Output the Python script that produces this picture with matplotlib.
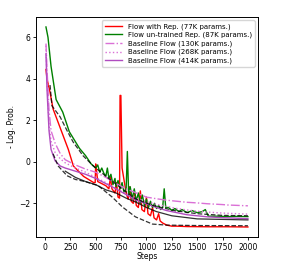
import matplotlib
matplotlib.use('Agg')
import matplotlib.pyplot as plt

# Flow with Rep. (77K params.)
rep_steps = [10, 20, 50, 80, 130, 180, 230, 280, 330, 380, 430, 480, 495, 500, 510, 520,
             560, 600, 630, 645, 660, 690, 705, 720, 735, 740, 748, 760, 780, 800, 820,
             835, 850, 870, 885, 900, 920, 940, 955, 980, 1000, 1015, 1040, 1060, 1075,
             1100, 1120, 1135, 1160, 1200, 1250, 1300, 1400, 1600, 1800, 2000]
rep_vals = [4.45, 4.0, 3.35, 2.55, 1.9, 1.25, 0.6, -0.2, -0.45, -0.7, -0.85, -1.0, -1.0, -0.1,
            -0.5, -0.95, -1.05, -1.15, -1.3, -0.75, -1.3, -1.5, -1.0, -1.7, -1.75, 3.2, 3.2,
            -0.3, -0.9, -1.5, -1.8, -1.2, -1.9, -2.0, -1.5, -2.1, -2.2, -1.4, -2.3, -2.4,
            -1.7, -2.5, -2.6, -2.2, -2.7, -2.8, -2.5, -2.85, -2.95, -3.05, -3.1, -3.1,
            -3.12, -3.13, -3.13, -3.14]

# Flow un-trained Rep. (87K params.)
unt_steps = [10, 30, 60, 110, 175, 240, 340, 400, 455, 500, 520, 540, 560, 580, 600, 615,
             630, 650, 670, 690, 700, 720, 740, 760, 780, 800, 812, 825, 840, 860, 880, 900,
             920, 940, 960, 980, 1000, 1020, 1040, 1060, 1080, 1100, 1120, 1140, 1160, 1175,
             1190, 1220, 1250, 1280, 1320, 1350, 1400, 1450, 1500, 1550, 1580, 1610, 1700,
             1800, 1900, 2000]
unt_vals = [6.5, 6.0, 4.6, 3.0, 2.4, 1.45, 0.65, 0.3, -0.1, -0.3, -0.15, -0.5, -0.3, -0.55,
            -0.7, -0.3, -0.8, -0.6, -1.1, -0.8, -1.2, -0.9, -1.3, -1.0, -1.5, -1.3, 0.5,
            -1.6, -1.2, -1.8, -1.3, -1.9, -1.5, -2.0, -1.6, -2.1, -1.8, -2.2, -1.9, -2.2,
            -2.0, -2.25, -2.1, -2.3, -2.2, -1.3, -2.2, -2.2, -2.35, -2.25, -2.4, -2.3, -2.45,
            -2.35, -2.45, -2.4, -2.3, -2.62, -2.62, -2.64, -2.63, -2.64]

# baselines
base_steps = [10, 20, 40, 60, 100, 150, 200, 300, 400, 500, 600, 700, 800, 900, 1000,
              1100, 1200, 1300, 1400, 1500, 1600, 1750, 1800, 2000]
b130_vals = [5.7, 4.5, 2.5, 1.5, 0.9, 0.4, 0.1, -0.15, -0.35, -0.5, -0.75, -1.05, -1.3,
             -1.5, -1.7, -1.78, -1.85, -1.9, -1.95, -1.98, -2.02, -2.06, -2.08, -2.12]
b268_vals = [5.6, 4.0, 1.8, 1.0, 0.45, 0.15, -0.05, -0.3, -0.5, -0.75, -1.0, -1.3, -1.52,
             -1.75, -1.92, -2.05, -2.15, -2.25, -2.32, -2.38, -2.42, -2.47, -2.48, -2.52]
b414_vals = [5.2, 3.5, 1.5, 0.6, 0.05, -0.2, -0.3, -0.45, -0.6, -0.8, -1.05, -1.3, -1.58,
             -1.85, -2.02, -2.2, -2.35, -2.45, -2.55, -2.6, -2.65, -2.69, -2.7, -2.74]

# black reference curves
up_steps = [50, 69, 149, 218, 277, 376, 475, 594, 723, 891, 1059, 1287, 1500, 1750, 2000]
up_vals = [3.7, 2.7, 2.17, 1.5, 0.96, 0.29, -0.19, -0.67, -1.16, -1.78, -2.1, -2.36, -2.5,
           -2.58, -2.6]
lo_steps = [80, 130, 218, 300, 396, 525, 663, 762, 891, 1059, 1200, 1500, 2000]
lo_vals = [0.39, -0.2, -0.67, -0.85, -0.95, -1.15, -1.7, -2.17, -2.65, -3.0, -3.05, -3.07,
           -3.08]
mid_steps = [200, 300, 400, 500, 600, 700, 800, 900, 1000, 1100, 1250, 1500, 2000]
mid_vals = [-0.45, -0.75, -0.95, -1.1, -1.35, -1.5, -1.75, -1.95, -2.2, -2.4, -2.6, -2.75,
            -2.8]

fig = plt.figure(figsize=(2.87, 2.61), dpi=100)
ax = fig.add_axes([0.125, 0.092, 0.774, 0.843])

ax.plot(rep_steps, rep_vals, color='red', lw=1.0, label='Flow with Rep. (77K params.)')
ax.plot(unt_steps, unt_vals, color='green', lw=1.0, label='Flow un-trained Rep. (87K params.)')
ax.plot(base_steps, b130_vals, color='orchid', ls='-.', lw=1.0, label='Baseline Flow (130K params.)')
ax.plot(base_steps, b268_vals, color='orchid', ls=':', lw=1.0, label='Baseline Flow (268K params.)')
ax.plot(base_steps, b414_vals, color='#b04cc0', lw=1.0, label='Baseline Flow (414K params.)')
ax.plot(up_steps, up_vals, color='black', ls='--', lw=0.9, alpha=0.8)
ax.plot(lo_steps, lo_vals, color='black', ls='--', lw=0.9, alpha=0.8)
ax.plot(mid_steps, mid_vals, color='black', lw=0.9, alpha=0.8)

ax.set_xticks([0, 250, 500, 750, 1000, 1250, 1500, 1750, 2000])
ax.set_yticks([-2, 0, 2, 4, 6])
ax.tick_params(labelsize=5.5, length=2.5, width=0.6, pad=1.5)
ax.set_xlabel('Steps', fontsize=5.5, labelpad=0)
ax.set_ylabel('- Log. Prob.', fontsize=5.5, labelpad=2)
for s in ax.spines.values():
    s.set_linewidth(0.7)
ax.legend(loc='upper right', fontsize=5, handlelength=2.5, borderpad=0.4,
          labelspacing=0.3, framealpha=0.8)

fig.savefig('out.png', dpi=100)
